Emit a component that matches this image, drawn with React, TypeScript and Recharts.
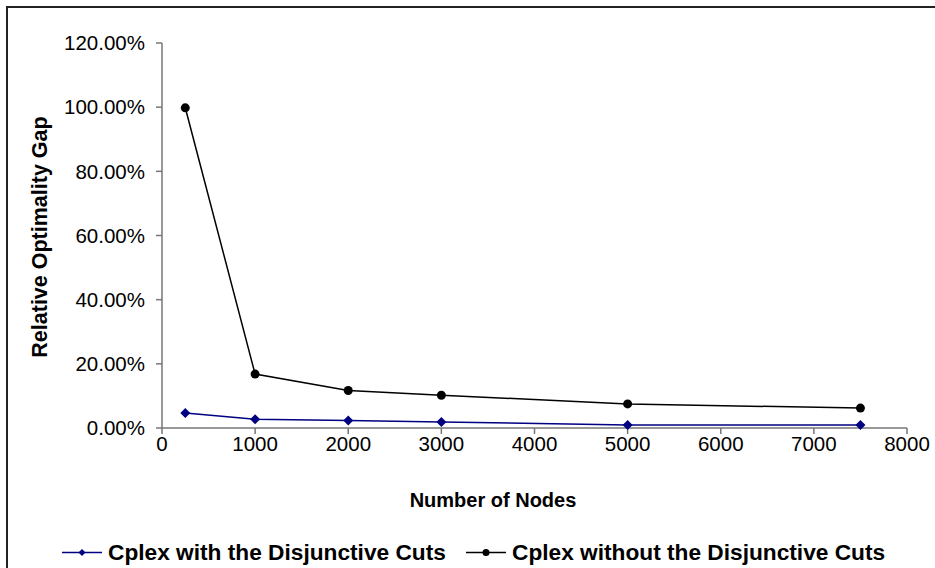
import React from 'react';
import { LineChart, Line, XAxis, YAxis } from 'recharts';

// number of nodes (x) and relative optimality gap in percent (y)
const nodes = [250, 1000, 2000, 3000, 5000, 7500];
const withCuts = [4.7, 2.7, 2.3, 1.9, 0.9, 0.9];
const withoutCuts = [99.8, 16.8, 11.7, 10.2, 7.5, 6.2];

const xTicks = [0, 1000, 2000, 3000, 4000, 5000, 6000, 7000, 8000];
const yTicks = [0, 20, 40, 60, 80, 100, 120];

const seriesNames = ['Cplex with the Disjunctive Cuts', 'Cplex without the Disjunctive Cuts'];

const data = nodes.map((n, i) => ({ n, withCuts: withCuts[i], withoutCuts: withoutCuts[i] }));

const FONT = '"Liberation Sans", Arial, sans-serif';
const NAVY = '#000080';

const XTick = (props: any) => {
    const { x, y, payload } = props;
    return (
        <text x={x} y={y} textAnchor="middle" dy="0.71em" fontFamily={FONT} fontSize={20.5} fill="#000">
            {payload.value}
        </text>
    );
};

const YTick = (props: any) => {
    const { x, y, payload } = props;
    return (
        <text x={x} y={y} textAnchor="end" dy="0.355em" fontFamily={FONT} fontSize={20.5} fill="#000">
            {payload.value.toFixed(2) + '%'}
        </text>
    );
};

const Diamond = (props: any) => {
    const { cx, cy } = props;
    if (cx == null || cy == null) return null;
    const r = 5;
    return <polygon points={`${cx},${cy - r} ${cx + r},${cy} ${cx},${cy + r} ${cx - r},${cy}`} fill={NAVY} />;
};

const Circle = (props: any) => {
    const { cx, cy } = props;
    if (cx == null || cy == null) return null;
    return <circle cx={cx} cy={cy} r={4.5} fill="#000" />;
};

const LegendItem = ({ color, name, diamond, left }: { color: string; name: string; diamond: boolean; left: number }) => (
    <div style={{ position: 'absolute', left, top: 552, transform: 'translateY(-50%)', display: 'flex', alignItems: 'center', whiteSpace: 'nowrap' }}>
        <svg width={40} height={12} style={{ marginRight: 6 }}>
            <line x1={0} y1={6} x2={40} y2={6} stroke={color} strokeWidth={1.5} />
            {diamond
                ? <polygon points="20,2.5 23.5,6 20,9.5 16.5,6" fill={color} />
                : <circle cx={20} cy={6} r={3.5} fill={color} />}
        </svg>
        <span>{name}</span>
    </div>
);

export default function App() {
    return (
        <div style={{ position: 'absolute', left: 0, top: 0, width: 935, height: 568, overflow: 'hidden', background: '#fff', fontFamily: FONT }}>
            <div style={{ position: 'absolute', left: 6, top: 6, width: 1000, height: 1000, border: '2px solid #222' }} />
            <LineChart width={935} height={568} data={data}
                margin={{ top: 43, right: 28, bottom: 110, left: 0 }}
                style={{ position: 'absolute', left: 0, top: 0 }}>
                <XAxis dataKey="n" type="number" domain={[0, 8000]} ticks={xTicks}
                    height={30} tickSize={6} tickMargin={2} tick={<XTick />}
                    axisLine={{ stroke: '#777', strokeWidth: 1.5 }} tickLine={{ stroke: '#777', strokeWidth: 1.5 }} />
                <YAxis type="number" domain={[0, 120]} ticks={yTicks} width={162}
                    tickSize={6} tickMargin={11} tick={<YTick />}
                    axisLine={{ stroke: '#777', strokeWidth: 1.5 }} tickLine={{ stroke: '#777', strokeWidth: 1.5 }} />
                <Line dataKey="withCuts" name={seriesNames[0]} stroke={NAVY} strokeWidth={1.5}
                    dot={<Diamond />} activeDot={false} isAnimationActive={false} />
                <Line dataKey="withoutCuts" name={seriesNames[1]} stroke="#000" strokeWidth={1.5}
                    dot={<Circle />} activeDot={false} isAnimationActive={false} />
            </LineChart>
            <div style={{ position: 'absolute', left: 40, top: 237, transform: 'translate(-50%,-50%) rotate(-90deg)', fontWeight: 'bold', fontSize: 21.5, whiteSpace: 'nowrap' }}>
                Relative Optimality Gap
            </div>
            <div style={{ position: 'absolute', left: 493, top: 500, transform: 'translate(-50%,-50%)', fontWeight: 'bold', fontSize: 20, whiteSpace: 'nowrap' }}>
                Number of Nodes
            </div>
            <div style={{ fontWeight: 'bold', fontSize: 22.7 }}>
                <LegendItem color={NAVY} name={seriesNames[0]} diamond={true} left={62} />
                <LegendItem color="#000" name={seriesNames[1]} diamond={false} left={466} />
            </div>
        </div>
    );
}
